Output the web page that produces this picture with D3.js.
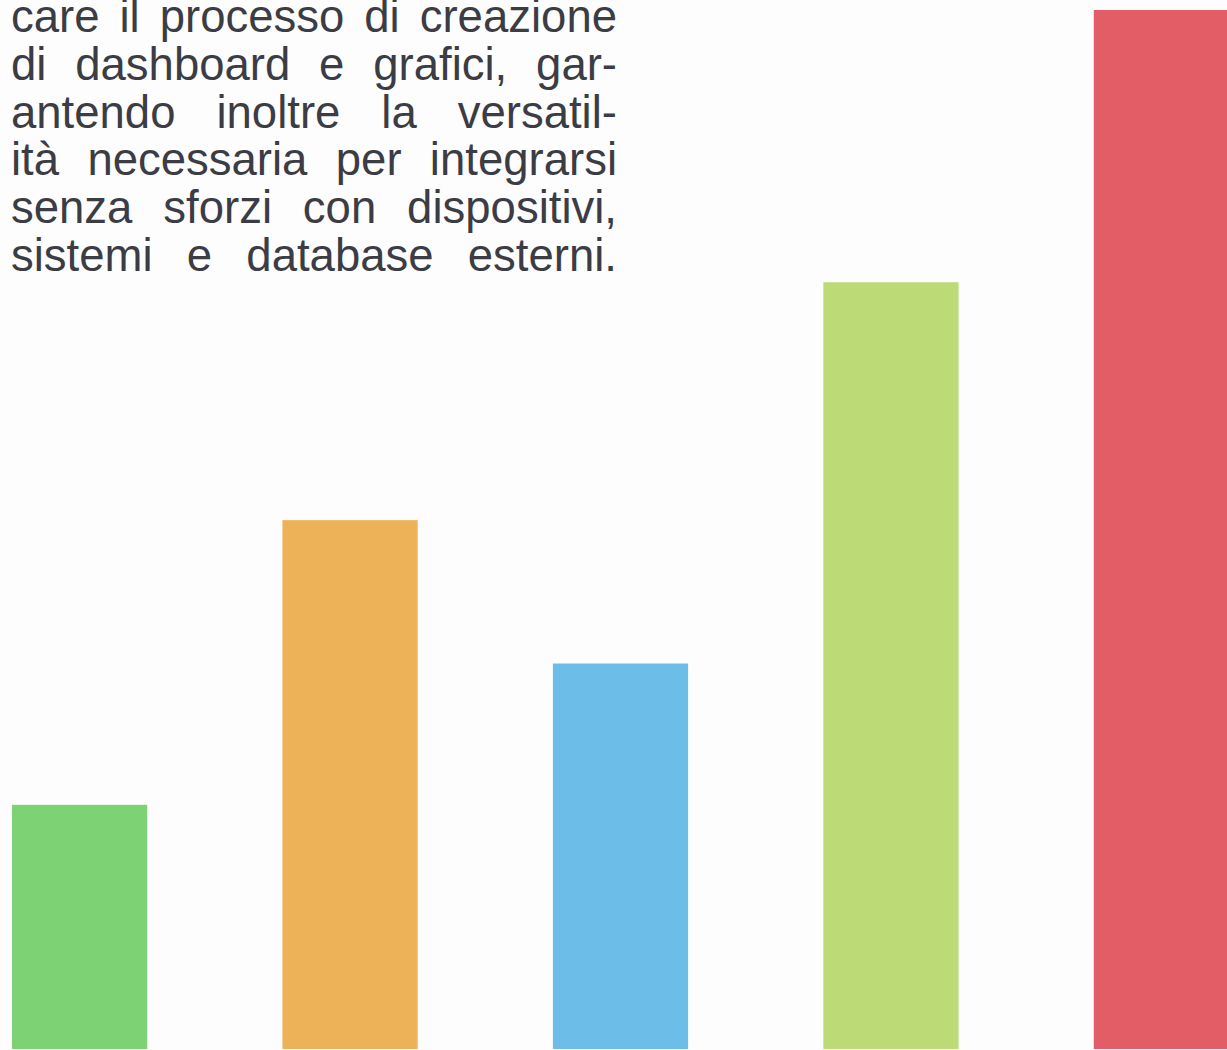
<!DOCTYPE html>
<html>
<head>
<meta charset="utf-8">
<script src="https://cdn.jsdelivr.net/npm/d3@7"></script>
<style>
html,body{margin:0;padding:0;background:#ffffff;overflow:hidden;}
svg{display:block;}
</style>
</head>
<body>
<svg id="chart" width="1227" height="1050"></svg>
<script>
const categories = ["A", "B", "C", "D", "E"];
const values = [23.5, 50.9, 37.1, 73.8, 100];
const colors = ["#7dd374", "#edb257", "#6cbde8", "#bcdb77", "#e35d66"];
const textLines = [
  "care il processo di creazione",
  "di dashboard e grafici, gar-",
  "antendo inoltre la versatil-",
  "ità necessaria per integrarsi",
  "senza sforzi con dispositivi,",
  "sistemi e database esterni."
];

const svg = d3.select("#chart");
const W = 1227, H = 1050;

svg.append("rect").attr("x", 0).attr("y", 0).attr("width", W).attr("height", H).attr("fill", "#fdfdfd");

const x = d3.scaleBand().domain(categories).range([12, 1229]).paddingInner(0.5).paddingOuter(0);
const y = d3.scaleLinear().domain([0, 100]).range([1049, 10]);

svg.append("g").selectAll("rect").data(categories).join("rect")
  .attr("x", d => x(d))
  .attr("y", (d, i) => y(values[i]))
  .attr("width", x.bandwidth())
  .attr("height", (d, i) => y(0) - y(values[i]))
  .attr("fill", (d, i) => colors[i]);

// justified text block
const left = 11, right = 617, fontSize = 45.5, lineH = 47.8, firstBase = 32;
const tg = svg.append("g")
  .attr("font-family", "'Liberation Sans', Arial, sans-serif")
  .attr("font-size", fontSize)
  .attr("fill", "#3b3c44");

textLines.forEach((line, li) => {
  const words = line.split(" ");
  const baseY = firstBase + li * lineH;
  const nodes = words.map(w => tg.append("text").attr("y", baseY).text(w));
  const widths = nodes.map(n => n.node().getComputedTextLength());
  const total = d3.sum(widths);
  const gap = words.length > 1 ? (right - left - total) / (words.length - 1) : 0;
  let cx = left;
  nodes.forEach((n, i) => { n.attr("x", cx); cx += widths[i] + gap; });
});
</script>
</body>
</html>
